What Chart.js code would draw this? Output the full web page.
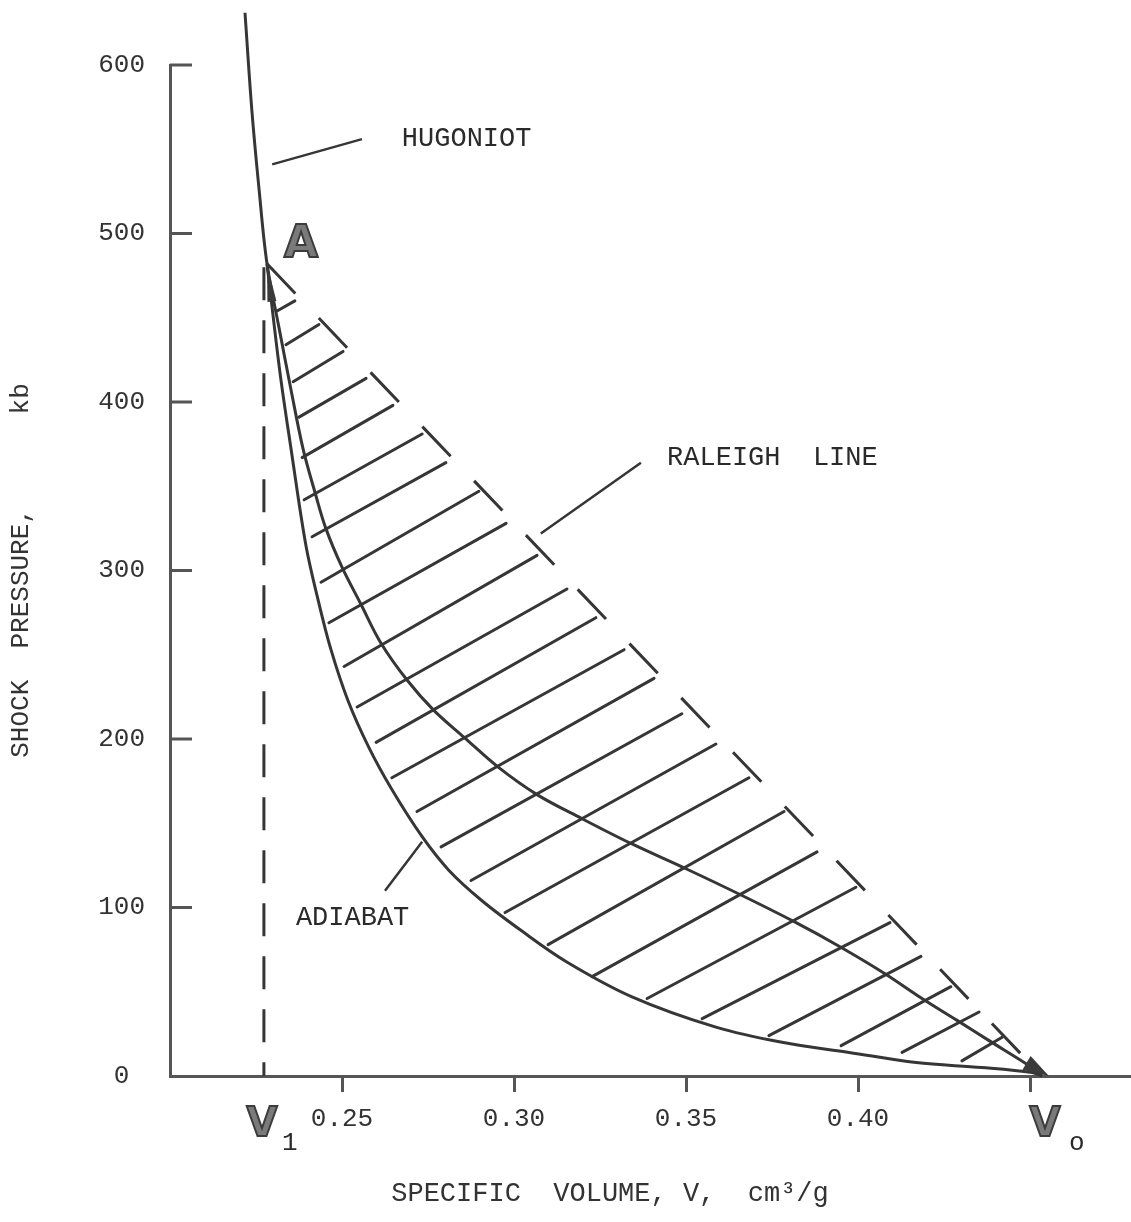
<!DOCTYPE html>
<html>
<head>
<meta charset="utf-8">
<script src="https://cdn.jsdelivr.net/npm/chart.js@4.4.1/dist/chart.umd.min.js"></script>
<style>
html,body{margin:0;padding:0;background:#fff;}
canvas{display:block;}
</style>
</head>
<body>
<canvas id="c" width="1131" height="1222"></canvas>
<script>
// ---------- data ----------
const hugoniotV = [0.2218, 0.2238, 0.2259, 0.2282, 0.2317, 0.2352, 0.2387, 0.2422, 0.2453, 0.2500, 0.2555, 0.2613, 0.2689, 0.2767, 0.2855, 0.2956, 0.3067, 0.3195, 0.3340, 0.3500, 0.3654, 0.3820, 0.3945, 0.4076, 0.4186, 0.4288, 0.4381, 0.4506, 0.4535];
const hugoniotP = [631, 573, 526, 482, 444, 407, 372, 346, 325, 302, 280, 257, 235, 217, 201, 183, 167, 153, 138, 123, 108, 91, 77, 61, 46, 33, 21, 5, 0];

const adiabatV = [0.2282, 0.2320, 0.2352, 0.2395, 0.2430, 0.2468, 0.2517, 0.2578, 0.2645, 0.2733, 0.2811, 0.2907, 0.3023, 0.3151, 0.3343, 0.3587, 0.3779, 0.3974, 0.4169, 0.4360, 0.4506, 0.4535];
const adiabatP = [482, 417, 372, 315, 283, 253, 223, 195, 170, 142, 122, 104, 86, 68, 47, 29, 20, 14, 8, 5, 2, 0];

const raleighV = [0.2282, 0.4535];
const raleighP = [482, 0];

const v1Value = 0.2273;
const v1LineP = [480, 0];

const hatchStartV = [0.2311,0.2337,0.2358,0.2375,0.2384,0.2390,0.2413,0.2439,0.2462,0.2506,0.2544,0.2599,0.2645,0.2718,0.2788,0.2875,0.2974,0.3099,0.3227,0.3387,0.3547,0.3741,0.3951,0.4128,0.4302];
const hatchStartP = [454,434,412,391,367,342,320,293,269,243,219,198,177,157,136,116,97,78,59,46,34,24,18,14,9];
const hatchEndV   = [0.2363,0.2433,0.2503,0.2570,0.2648,0.2733,0.2802,0.2898,0.2977,0.3067,0.3154,0.3238,0.3320,0.3407,0.3488,0.3587,0.3683,0.3785,0.3881,0.3994,0.4093,0.4183,0.4270,0.4352,0.4419];
const hatchEndP   = [460,446,430,414,398,381,364,347,328,309,289,272,253,236,215,197,177,157,133,112,91,71,53,38,23];

const leaderStartV = [0.2297, 0.3078, 0.2625];
const leaderStartP = [541, 322, 110];
const leaderEndV   = [0.2558, 0.3369, 0.2733];
const leaderEndP   = [556, 364, 139];

const labelTexts = ['HUGONIOT', 'RALEIGH  LINE', 'ADIABAT'];
const labelV = [0.2674, 0.3445, 0.2366];
const labelP = [556, 367, 94];

const xTickValues = [0.25, 0.30, 0.35, 0.40, 0.45];
const xTickLabels = ['0.25', '0.30', '0.35', '0.40', ''];
const yTickValues = [0, 100, 200, 300, 400, 500, 600];
const yTickLabels = ['0', '100', '200', '300', '400', '500', '600'];

// ---------- helpers ----------
const pts = (vs, ps) => vs.map((v, i) => ({x: v, y: ps[i]}));
const segs = (v1, p1, v2, p2) => {
  const out = [];
  v1.forEach((v, i) => { out.push({x: v, y: p1[i]}, {x: v2[i], y: p2[i]}, {x: v2[i], y: null}); });
  return out;
};
const INK = '#363636';
const AXIS = '#555555';

const lineBase = {borderColor: INK, borderWidth: 3, pointRadius: 0, fill: false, clip: false, spanGaps: false};

const decor = {
  id: 'decor',
  afterDatasetsDraw(chart) {
    const {ctx, scales: {x, y}} = chart;
    ctx.save();
    // inward y tick marks
    ctx.strokeStyle = AXIS; ctx.lineWidth = 3;
    yTickValues.forEach(v => {
      if (v === 0) return;
      const py = y.getPixelForValue(v);
      ctx.beginPath(); ctx.moveTo(x.left, py); ctx.lineTo(x.left + 22, py); ctx.stroke();
    });
    // arrowheads
    const arrow = (tipV, tipP, fromV, fromP, len, half) => {
      const tx = x.getPixelForValue(tipV), ty = y.getPixelForValue(tipP);
      const fx = x.getPixelForValue(fromV), fy = y.getPixelForValue(fromP);
      let dx = tx - fx, dy = ty - fy; const d = Math.hypot(dx, dy); dx /= d; dy /= d;
      const bx = tx - dx * len, by = ty - dy * len;
      ctx.beginPath();
      ctx.moveTo(tx, ty);
      ctx.lineTo(bx - dy * half, by + dx * half);
      ctx.lineTo(bx + dy * half, by - dx * half);
      ctx.closePath();
      ctx.fillStyle = '#3a3a3a'; ctx.fill();
    };
    arrow(adiabatV[0], adiabatP[0], adiabatV[2], adiabatP[2], 38, 4.5);
    arrow(hugoniotV[hugoniotV.length - 1] + 0.002, 0, hugoniotV[hugoniotV.length - 3], hugoniotP[hugoniotP.length - 3], 26, 8);
    // annotation texts
    ctx.fillStyle = '#2a2a2a';
    ctx.font = '27px "Liberation Mono"';
    ctx.textBaseline = 'middle'; ctx.textAlign = 'left';
    labelTexts.forEach((t, i) => ctx.fillText(t, x.getPixelForValue(labelV[i]), y.getPixelForValue(labelP[i])));
    // bold grey letters
    const bigLetter = (txt, cx, cy, size) => {
      ctx.font = 'bold ' + size + 'px "DejaVu Sans"';
      ctx.textAlign = 'center'; ctx.textBaseline = 'middle';
      ctx.lineWidth = 2; ctx.strokeStyle = '#3c3c3c'; ctx.fillStyle = '#7a7a7a';
      ctx.fillText(txt, cx, cy); ctx.strokeText(txt, cx, cy);
    };
    const ax = x.getPixelForValue(raleighV[0]), ay = y.getPixelForValue(raleighP[0]);
    bigLetter('A', ax + 34, ay - 18, 44);
    const base = y.getPixelForValue(0);
    const v1x = x.getPixelForValue(v1Value);
    const vox = x.getPixelForValue(raleighV[1]);
    bigLetter('V', v1x - 2, base + 50, 40);
    bigLetter('V', vox + 3, base + 50, 40);
    ctx.fillStyle = '#2a2a2a'; ctx.font = '26px "Liberation Mono"'; ctx.textAlign = 'left'; ctx.textBaseline = 'alphabetic';
    ctx.fillText('1', v1x + 18, base + 74);
    ctx.fillText('o', vox + 27, base + 74);
    ctx.restore();
  }
};

new Chart(document.getElementById('c'), {
  type: 'line',
  data: {
    datasets: [
      {...lineBase, data: pts(hugoniotV, hugoniotP), tension: 0.35},
      {...lineBase, data: pts(adiabatV, adiabatP), tension: 0.35},
      {...lineBase, data: pts(raleighV, raleighP), borderDash: [41, 34], tension: 0},
      {...lineBase, data: pts([v1Value, v1Value], v1LineP), borderDash: [33, 20], tension: 0},
      {...lineBase, data: segs(hatchStartV, hatchStartP, hatchEndV, hatchEndP), tension: 0, borderCapStyle: 'round'},
      {...lineBase, data: segs(leaderStartV, leaderStartP, leaderEndV, leaderEndP), tension: 0, borderWidth: 2.5}
    ]
  },
  options: {
    responsive: false,
    animation: false,
    devicePixelRatio: 1,
    layout: {padding: {top: 65, right: 0, bottom: 0, left: 0}},
    plugins: {legend: {display: false}, tooltip: {enabled: false}},
    elements: {point: {radius: 0}},
    scales: {
      x: {
        type: 'linear', min: 0.2, max: 0.47936,
        afterBuildTicks: s => { s.ticks = xTickValues.map(v => ({value: v})); },
        ticks: {callback: (v, i) => xTickLabels[i], font: {family: 'Liberation Mono', size: 26}, color: '#333', padding: 12, maxRotation: 0, autoSkip: false},
        grid: {display: true, drawOnChartArea: false, drawTicks: true, tickLength: 16, color: AXIS, lineWidth: 3},
        border: {display: true, color: AXIS, width: 3},
        title: {display: true, text: 'SPECIFIC  VOLUME, V,  cm³/g     ', font: {family: 'Liberation Mono', size: 27}, color: '#333', padding: {top: 0, bottom: 12}},
        afterFit: s => { s.height = 146; s.paddingLeft = 0; s.paddingRight = 0; s.paddingTop = 0; s.paddingBottom = 0; }
      },
      y: {
        type: 'linear', min: 0, max: 600,
        afterBuildTicks: s => { s.ticks = yTickValues.map(v => ({value: v})); },
        ticks: {callback: (v, i) => yTickLabels[i], font: {family: 'Liberation Mono', size: 26}, color: '#333', padding: 25, crossAlign: 'center'},
        grid: {display: false, drawTicks: false},
        border: {display: true, color: AXIS, width: 3},
        title: {display: true, text: 'SHOCK  PRESSURE,      kb', font: {family: 'Liberation Mono', size: 26}, color: '#333', padding: {top: 6, bottom: 0}},
        afterFit: s => { s.width = 170; s.paddingLeft = 0; s.paddingRight = 0; s.paddingTop = 0; s.paddingBottom = 0; }
      }
    }
  },
  plugins: [decor]
});
</script>
</body>
</html>
